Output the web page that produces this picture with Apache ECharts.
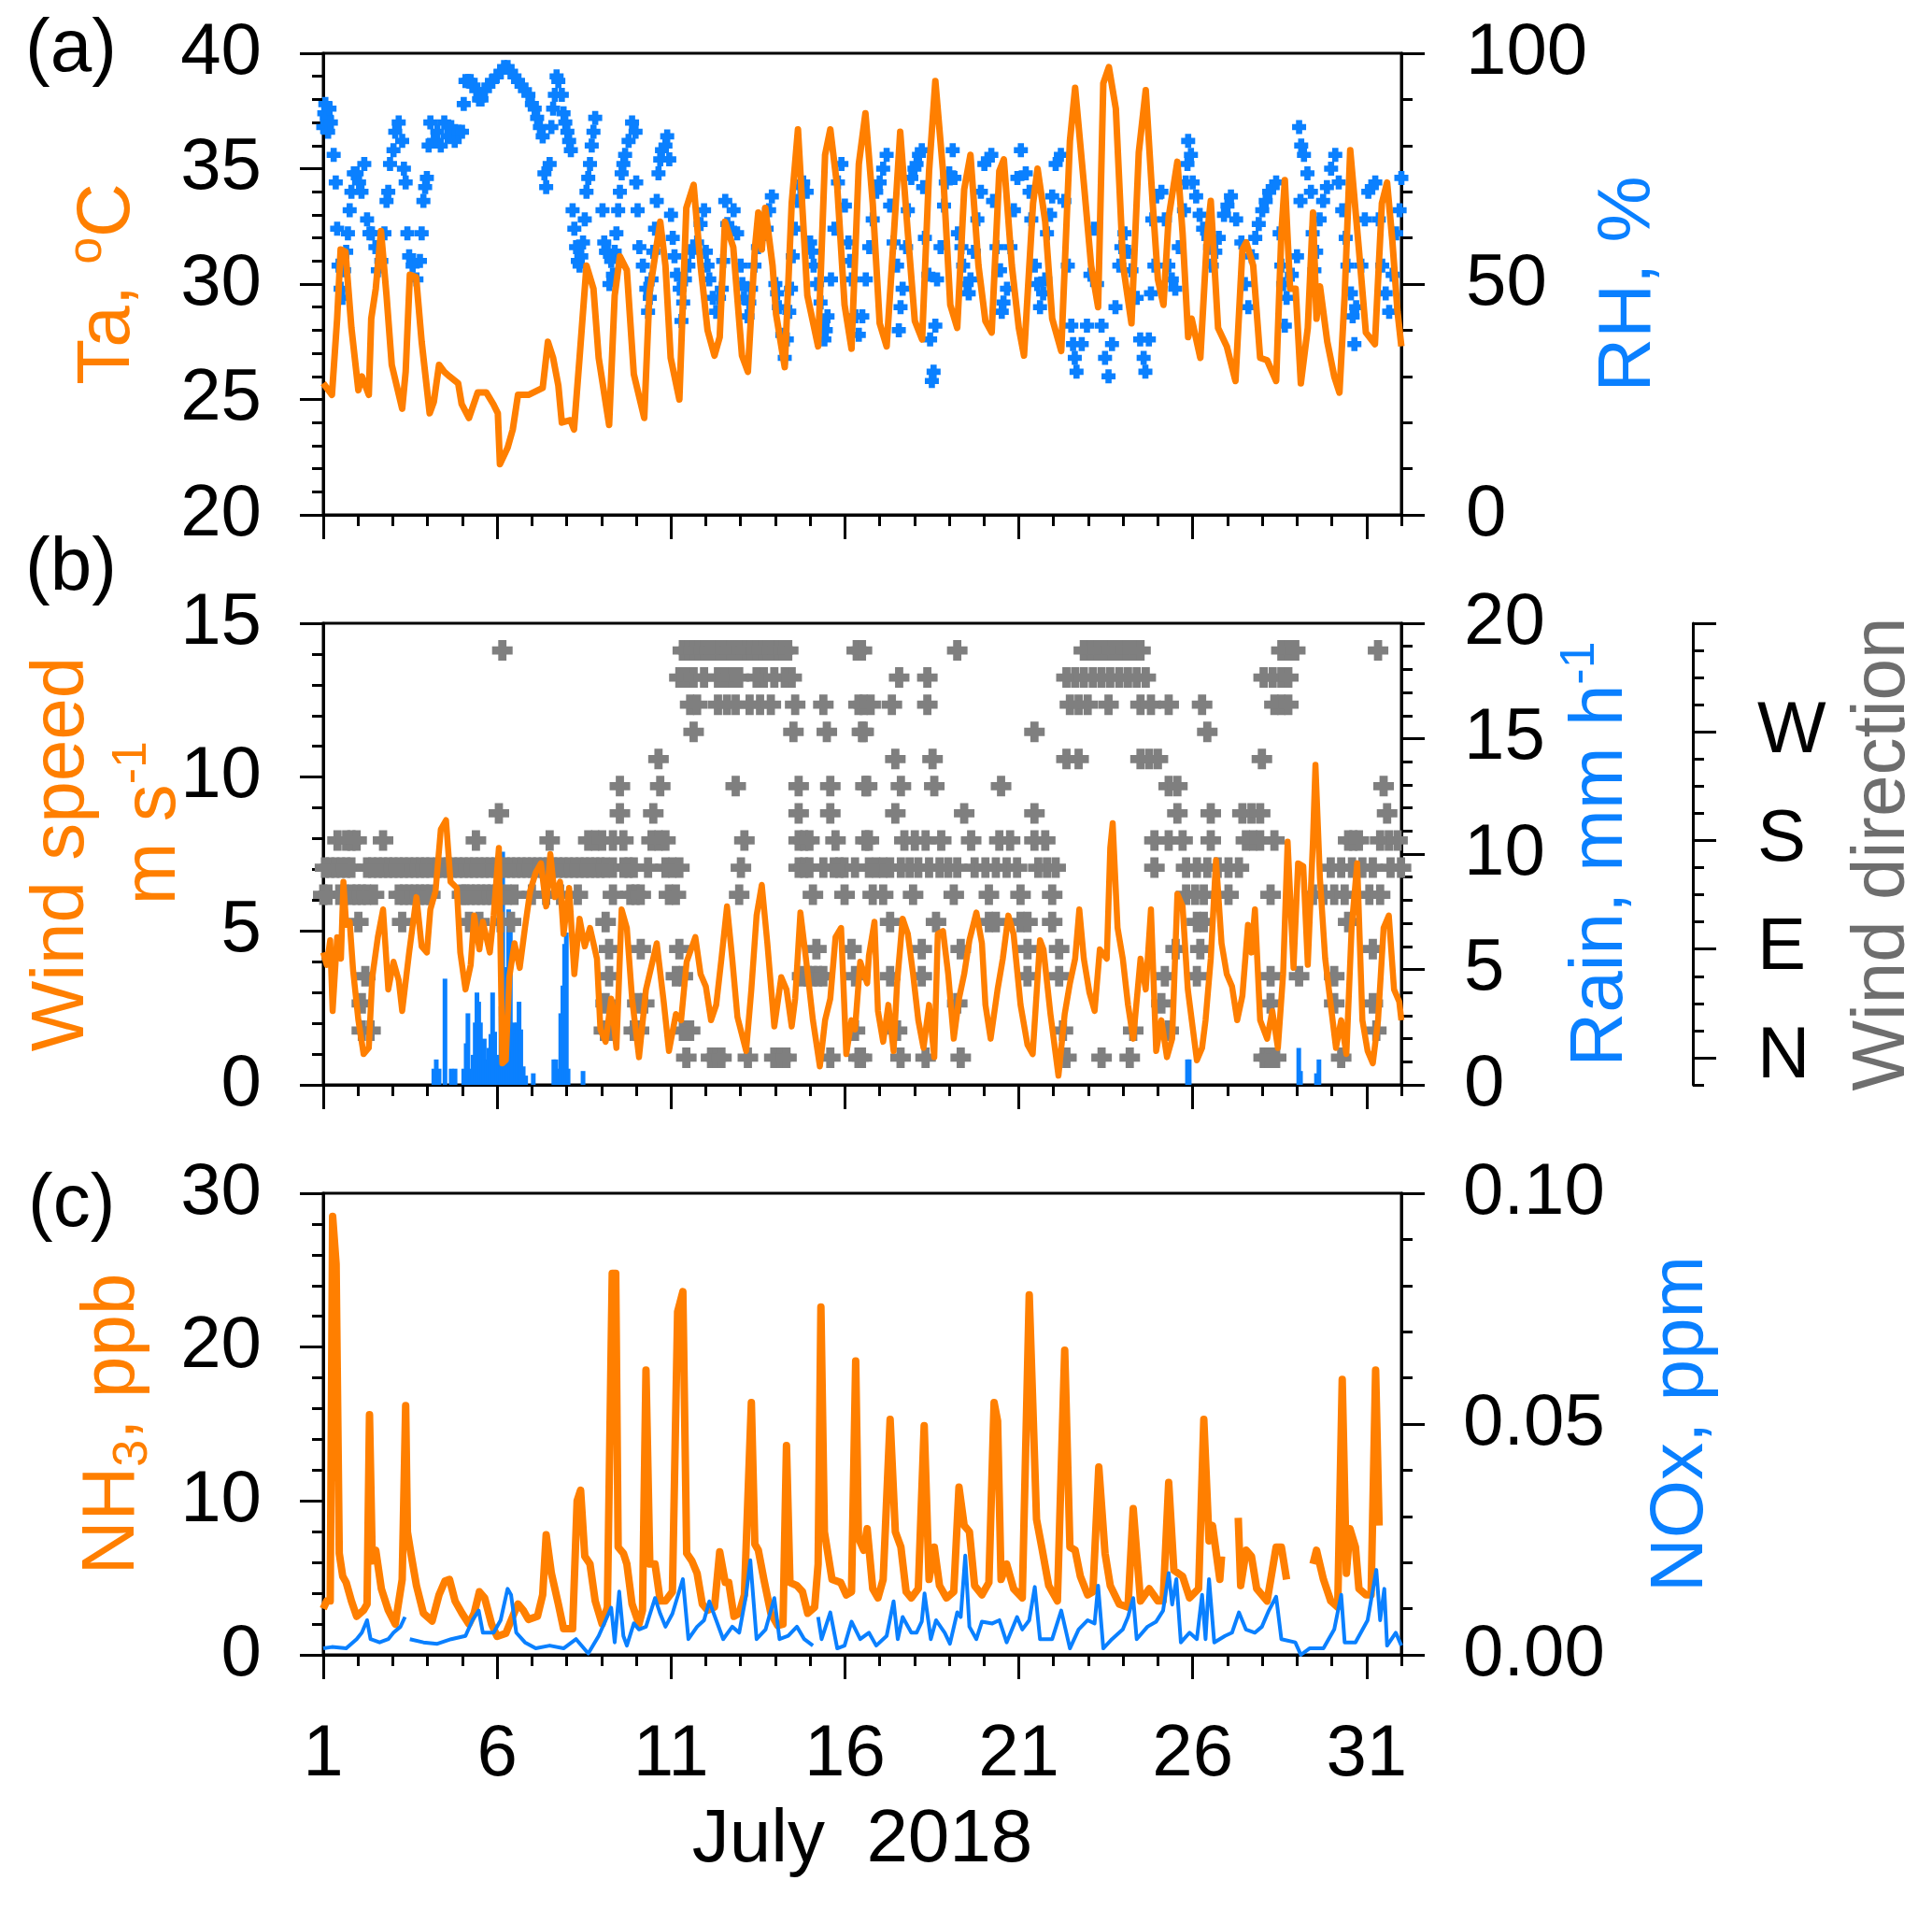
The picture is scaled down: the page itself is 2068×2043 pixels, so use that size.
<!DOCTYPE html>
<html>
<head>
<meta charset="utf-8">
<script src="https://cdn.jsdelivr.net/npm/echarts@6/dist/echarts.min.js"></script>
<style>
html,body{margin:0;padding:0;background:#fff}
#main{width:2068px;height:2043px}
</style>
</head>
<body>
<div id="main"></div>
<script>
// tick labels
var dayTicks = [1, 6, 11, 16, 21, 26, 31];
var compassTicks = [0, 90, 180, 270];
var compassNames = ['N', 'E', 'S', 'W'];

// (a) air temperature, degC  [day of July, value]
var taPts = [[1.00,25.7],[1.25,25.2],[1.40,28.5],[1.50,31.5],[1.64,31.4],[1.81,28.1],[2.01,25.4],[2.11,26.0],[2.31,25.2],[2.38,28.5],[2.51,29.8],[2.66,32.3],[2.82,29.5],[2.97,26.5],[3.27,24.6],[3.37,26.2],[3.49,30.4],[3.67,30.3],[3.83,27.5],[4.06,24.4],[4.18,24.9],[4.33,26.5],[4.48,26.2],[4.63,26.0],[4.88,25.7],[4.98,24.8],[5.19,24.2],[5.44,25.3],[5.69,25.3],[5.89,24.8],[6.02,24.4],[6.08,22.2],[6.30,22.9],[6.45,23.7],[6.60,25.2],[6.90,25.2],[7.31,25.5],[7.46,27.5],[7.61,26.8],[7.76,25.6],[7.86,24.0],[8.11,24.1],[8.21,23.7],[8.37,26.8],[8.57,30.8],[8.77,29.8],[8.92,26.8],[9.22,23.9],[9.38,29.5],[9.53,31.2],[9.73,30.6],[9.93,26.1],[10.23,24.2],[10.38,29.6],[10.69,32.7],[10.84,30.8],[10.99,26.8],[11.24,25.0],[11.44,33.3],[11.65,34.3],[11.85,30.8],[12.05,28.0],[12.25,26.9],[12.40,27.7],[12.55,32.7],[12.79,31.6],[13.04,26.9],[13.21,26.2],[13.41,31.5],[13.51,33.1],[13.61,31.5],[13.71,33.3],[13.92,30.8],[14.02,28.7],[14.27,26.4],[14.47,33.5],[14.65,36.7],[14.92,29.5],[15.23,27.3],[15.43,35.6],[15.58,36.7],[15.78,34.2],[15.99,29.1],[16.19,27.2],[16.40,35.2],[16.59,37.4],[16.80,33.5],[17.00,28.3],[17.20,27.3],[17.41,32.2],[17.59,36.6],[17.81,32.2],[18.01,28.4],[18.22,27.6],[18.42,34.9],[18.60,38.8],[18.82,34.9],[19.03,29.1],[19.23,28.1],[19.43,34.1],[19.61,35.6],[19.84,30.8],[20.04,28.4],[20.22,27.9],[20.44,34.9],[20.57,35.4],[20.80,30.8],[21.00,28.1],[21.15,26.9],[21.41,33.5],[21.54,35.0],[21.76,32.7],[21.96,28.5],[22.22,27.1],[22.47,36.2],[22.62,38.5],[22.88,34.2],[23.08,30.8],[23.28,29.0],[23.43,38.7],[23.59,39.4],[23.79,37.6],[24.00,30.8],[24.24,28.3],[24.45,35.7],[24.65,38.4],[24.85,33.5],[25.00,30.2],[25.16,29.1],[25.31,32.9],[25.56,35.3],[25.71,32.2],[25.87,27.7],[25.97,28.5],[26.22,26.8],[26.42,32.2],[26.52,33.6],[26.73,28.1],[26.98,27.3],[27.23,25.8],[27.43,31.5],[27.54,31.8],[27.74,30.8],[27.94,26.8],[28.14,26.7],[28.40,25.8],[28.55,32.2],[28.65,34.5],[28.80,29.8],[28.96,29.8],[29.11,25.7],[29.31,28.1],[29.46,33.1],[29.56,28.5],[29.66,29.9],[29.87,27.5],[30.07,26.0],[30.22,25.3],[30.37,29.5],[30.53,35.8],[30.78,31.5],[30.98,27.9],[31.24,27.4],[31.44,33.5],[31.59,34.4],[31.74,31.9],[31.89,28.8],[32.00,27.3]];

// (a) relative humidity, %
var rhPts = [[1.00,84],[1.03,87],[1.06,89],[1.10,86],[1.14,83],[1.18,88],[1.22,85],[1.30,78],[1.36,72],[1.40,62],[1.44,54],[1.50,49],[1.55,47],[1.60,53],[1.66,57],[1.71,61],[1.76,66],[1.81,70],[1.88,74],[1.96,74],[2.03,72],[2.10,70],[2.18,76],[2.26,64],[2.33,61],[2.40,61],[2.50,58],[2.57,53],[2.67,55],[2.76,61],[2.82,68],[2.87,70],[2.92,76],[3.02,79],[3.07,83],[3.17,85],[3.27,81],[3.32,75],[3.37,72],[3.42,61],[3.47,56],[3.57,54],[3.68,51],[3.78,55],[3.83,61],[3.88,68],[3.93,71],[3.98,73],[4.03,80],[4.08,85],[4.18,81],[4.28,83],[4.38,80],[4.48,85],[4.58,82],[4.68,84],[4.78,81],[4.89,83],[4.99,83],[5.04,89],[5.09,94],[5.17,94],[5.24,94],[5.32,93],[5.40,92],[5.48,90],[5.55,90],[5.65,92],[5.75,93],[5.85,94],[5.99,95],[6.10,96],[6.20,97],[6.30,97],[6.40,96],[6.50,95],[6.60,94],[6.70,93],[6.80,92],[6.90,91],[7.00,89],[7.08,88],[7.15,86],[7.23,84],[7.31,82],[7.36,74],[7.41,71],[7.51,76],[7.56,84],[7.61,88],[7.66,91],[7.71,95],[7.76,94],[7.86,91],[7.91,87],[7.96,85],[8.02,83],[8.07,81],[8.12,79],[8.17,66],[8.22,62],[8.27,58],[8.32,55],[8.37,54],[8.42,56],[8.47,59],[8.52,64],[8.57,70],[8.62,73],[8.67,76],[8.72,80],[8.77,83],[8.82,86],[9.03,66],[9.08,59],[9.13,57],[9.18,57],[9.23,50],[9.28,55],[9.33,52],[9.38,57],[9.43,61],[9.48,66],[9.53,70],[9.58,74],[9.63,76],[9.68,78],[9.78,81],[9.88,85],[9.98,83],[10.00,72],[10.04,66],[10.09,58],[10.19,54],[10.29,49],[10.34,44],[10.39,47],[10.44,51],[10.49,57],[10.54,62],[10.59,68],[10.64,74],[10.69,77],[10.74,79],[10.84,80],[10.89,82],[10.95,77],[11.00,65],[11.05,60],[11.10,56],[11.17,52],[11.25,49],[11.30,42],[11.35,46],[11.40,51],[11.50,54],[11.60,57],[11.68,58],[11.75,59],[11.85,63],[11.95,66],[12.00,57],[12.05,54],[12.10,51],[12.20,47],[12.30,44],[12.38,47],[12.46,49],[12.50,55],[12.56,68],[12.62,63],[12.70,62],[12.80,66],[12.90,61],[13.00,54],[13.05,50],[13.10,47],[13.20,43],[13.25,46],[13.30,49],[13.40,54],[13.50,58],[13.60,60],[13.68,61],[13.75,62],[13.82,66],[13.90,69],[14.00,50],[14.05,48],[14.10,45],[14.20,39],[14.27,34],[14.33,38],[14.40,44],[14.45,49],[14.50,56],[14.56,62],[14.65,68],[14.72,71],[14.80,72],[14.90,70],[15.00,59],[15.05,57],[15.10,54],[15.20,50],[15.30,46],[15.36,41],[15.41,38],[15.45,40],[15.50,43],[15.60,51],[15.70,62],[15.80,72],[15.90,76],[16.00,67],[16.10,59],[16.15,55],[16.20,51],[16.30,43],[16.40,39],[16.50,43],[16.60,51],[16.70,58],[16.80,64],[16.90,70],[17.00,72],[17.10,75],[17.20,78],[17.30,67],[17.40,59],[17.50,54],[17.55,40],[17.60,45],[17.66,49],[17.76,58],[17.81,66],[17.91,73],[18.00,75],[18.06,76],[18.13,78],[18.21,79],[18.25,71],[18.30,60],[18.40,52],[18.45,38],[18.50,29],[18.55,31],[18.60,41],[18.65,51],[18.75,58],[18.85,67],[18.90,72],[19.00,74],[19.10,79],[19.15,73],[19.25,61],[19.35,58],[19.40,54],[19.50,50],[19.56,48],[19.61,51],[19.71,57],[19.81,64],[19.91,70],[20.01,76],[20.11,77],[20.21,78],[20.26,68],[20.36,58],[20.46,53],[20.51,44],[20.56,46],[20.66,49],[20.76,58],[20.86,66],[20.96,73],[21.06,79],[21.20,74],[21.31,70],[21.36,64],[21.46,54],[21.53,50],[21.61,45],[21.70,48],[21.76,51],[21.81,61],[21.90,65],[21.96,69],[22.06,76],[22.21,78],[22.31,68],[22.41,54],[22.51,41],[22.56,37],[22.61,34],[22.66,31],[22.81,37],[22.96,41],[23.06,52],[23.16,62],[23.25,50],[23.38,41],[23.48,34],[23.58,30],[23.68,37],[23.78,45],[23.89,54],[23.95,58],[24.04,61],[24.14,57],[24.24,53],[24.39,47],[24.49,38],[24.59,34],[24.64,31],[24.74,38],[24.80,48],[24.84,64],[24.90,54],[24.95,69],[25.10,70],[25.20,64],[25.30,54],[25.40,51],[25.50,49],[25.60,58],[25.75,66],[25.80,72],[25.85,76],[25.87,81],[25.95,78],[26.00,72],[26.10,69],[26.20,65],[26.30,62],[26.45,60],[26.50,58],[26.55,54],[26.65,57],[26.75,60],[26.90,65],[27.00,67],[27.10,69],[27.25,64],[27.40,59],[27.50,50],[27.60,45],[27.70,56],[27.80,60],[27.90,63],[28.00,66],[28.10,68],[28.20,70],[28.30,71],[28.40,72],[28.50,61],[28.55,54],[28.60,50],[28.65,41],[28.70,47],[28.85,52],[29.00,56],[29.06,84],[29.10,68],[29.12,80],[29.20,78],[29.30,74],[29.40,70],[29.45,61],[29.50,53],[29.55,57],[29.65,64],[29.75,68],[29.86,71],[29.98,75],[30.10,78],[30.20,72],[30.30,66],[30.40,60],[30.45,54],[30.55,48],[30.60,43],[30.65,37],[30.70,45],[30.85,54],[30.95,64],[31.05,70],[31.15,71],[31.25,72],[31.35,64],[31.45,54],[31.55,48],[31.65,44],[31.75,52],[31.85,61],[31.95,66],[32.00,73]];

// (b) wind speed, m/s
var windPts = [[1.00,4.3],[1.10,3.9],[1.20,4.7],[1.27,2.4],[1.40,4.8],[1.51,4.1],[1.58,6.6],[1.66,5.2],[1.76,5.3],[1.86,3.7],[2.01,2.1],[2.16,1.0],[2.31,1.2],[2.41,3.5],[2.57,4.8],[2.72,5.7],[2.87,3.1],[3.02,4.0],[3.17,3.4],[3.27,2.4],[3.47,4.3],[3.68,6.1],[3.83,4.5],[3.98,4.3],[4.08,5.7],[4.23,6.3],[4.38,8.3],[4.53,8.6],[4.66,6.6],[4.84,6.4],[4.94,4.3],[5.09,3.1],[5.24,3.9],[5.34,5.5],[5.49,4.4],[5.59,5.3],[5.79,4.3],[5.90,5.5],[6.05,7.7],[6.15,0.7],[6.25,0.8],[6.35,3.5],[6.50,4.6],[6.65,3.8],[6.80,5.1],[6.95,6.3],[7.11,6.9],[7.26,7.2],[7.41,5.8],[7.53,7.5],[7.66,6.1],[7.81,6.6],[7.91,4.9],[8.07,6.4],[8.22,3.6],[8.37,5.4],[8.52,4.5],[8.67,5.1],[8.87,4.1],[8.97,1.8],[9.12,1.4],[9.28,2.8],[9.43,1.2],[9.58,5.7],[9.73,5.1],[9.88,2.8],[10.08,0.9],[10.28,3.1],[10.59,4.6],[10.79,2.7],[10.94,1.1],[11.14,2.3],[11.29,2.1],[11.45,4.0],[11.70,4.8],[11.85,3.6],[12.00,3.2],[12.15,2.1],[12.30,2.6],[12.45,4.1],[12.61,5.8],[12.76,4.1],[12.91,2.2],[13.16,1.1],[13.31,3.1],[13.46,5.5],[13.61,6.5],[13.77,4.6],[13.97,1.9],[14.17,3.5],[14.32,3.1],[14.47,1.9],[14.57,2.8],[14.72,5.6],[14.88,4.1],[15.08,2.1],[15.28,0.6],[15.43,2.1],[15.58,2.8],[15.73,4.8],[15.89,5.1],[16.04,1.0],[16.19,2.1],[16.29,1.8],[16.44,4.0],[16.64,3.3],[16.69,4.2],[16.85,5.3],[16.95,2.4],[17.10,1.4],[17.25,2.6],[17.40,1.1],[17.50,3.3],[17.66,5.4],[17.81,4.9],[17.96,3.6],[18.11,2.1],[18.26,1.2],[18.42,2.6],[18.57,0.9],[18.67,4.9],[18.82,5.0],[18.97,3.6],[19.13,1.5],[19.28,2.8],[19.43,3.6],[19.58,4.7],[19.78,5.6],[19.94,4.6],[20.04,2.6],[20.19,1.5],[20.39,3.1],[20.54,4.1],[20.70,5.5],[20.85,4.9],[21.05,2.6],[21.25,1.3],[21.40,1.0],[21.61,4.7],[21.71,4.4],[21.91,2.3],[22.14,0.3],[22.32,2.3],[22.47,3.3],[22.62,4.1],[22.74,5.7],[22.87,4.1],[23.03,3.0],[23.18,2.4],[23.33,4.4],[23.53,4.1],[23.63,7.7],[23.70,8.5],[23.84,5.1],[23.99,4.1],[24.14,2.6],[24.29,1.5],[24.50,4.1],[24.65,3.1],[24.80,5.7],[24.95,1.1],[25.10,2.1],[25.26,0.9],[25.41,1.5],[25.56,6.2],[25.71,5.8],[25.86,3.1],[26.12,0.8],[26.27,1.2],[26.37,2.1],[26.52,4.1],[26.67,7.3],[26.83,4.6],[26.98,3.6],[27.13,3.2],[27.28,2.1],[27.43,2.9],[27.59,5.2],[27.69,4.3],[27.79,5.7],[27.94,2.1],[28.14,1.5],[28.29,2.4],[28.45,1.2],[28.60,3.6],[28.73,7.9],[28.90,3.8],[29.03,7.2],[29.18,7.1],[29.31,3.9],[29.46,8.0],[29.53,10.4],[29.66,6.7],[29.81,4.1],[29.97,2.6],[30.12,1.2],[30.27,2.1],[30.42,1.0],[30.57,5.1],[30.73,7.2],[30.88,2.1],[31.03,1.1],[31.18,0.7],[31.33,2.1],[31.49,5.1],[31.64,5.5],[31.79,3.1],[31.94,2.7],[32.00,2.1]];

// (b) rain, mm/h
var rainPts = [[4.18,0.7],[4.25,1.1],[4.33,0.7],[4.50,4.6],[4.68,0.7],[4.79,0.7],[5.04,0.7],[5.11,1.8],[5.16,3.1],[5.24,0.7],[5.31,1.3],[5.37,2.7],[5.42,4.0],[5.47,3.6],[5.52,2.7],[5.57,1.6],[5.63,2.0],[5.69,1.1],[5.76,1.6],[5.82,2.2],[5.87,4.0],[5.93,2.3],[6.00,1.1],[6.06,1.3],[6.11,3.4],[6.16,10.1],[6.22,1.6],[6.28,5.1],[6.33,7.6],[6.38,7.4],[6.43,2.0],[6.48,2.7],[6.53,2.2],[6.58,2.7],[6.63,3.6],[6.68,2.4],[6.75,0.8],[6.82,0.4],[7.04,0.5],[7.63,1.1],[7.69,1.1],[7.76,0.7],[7.83,3.1],[7.89,4.3],[7.94,6.1],[7.99,6.6],[8.04,0.7],[8.47,0.6],[25.85,1.1],[25.90,1.1],[29.05,1.6],[29.10,0.6],[29.56,0.5],[29.63,1.1]];

// (b) wind direction: times (day of July) per 16-point sector
var wdN   = [11.44,12.15,12.30,12.45,13.21,13.97,14.17,14.32,15.58,16.39,16.49,17.60,18.32,19.33,22.37,23.38,24.19,28.04,28.19,28.40,30.27];
var wdNNE = [2.11,2.36,9.07,9.22,9.93,10.08,11.34,11.55,16.29,17.50,22.27,24.29,25.31,31.28];
var wdNE  = [2.11,9.12,10.03,10.23,19.23,25.10,28.24,30.07,31.18];
var wdENE = [2.21,9.22,11.14,11.34,14.77,14.93,15.08,15.23,15.38,16.29,17.30,18.21,21.25,22.16,25.20,26.12,28.24,29.06,30.07];
var wdE   = [9.22,10.13,11.24,15.18,16.19,18.21,19.33,21.25,22.16,25.51,26.22,31.18];
var wdESE = [2.01,3.27,5.19,5.49,6.10,6.40,9.12,17.30,18.62,20.14,20.34,21.05,21.25,21.96,26.12,26.32,30.47];
var wdSE  = [1.00,1.15,1.46,1.61,1.81,1.96,2.11,2.26,2.46,3.17,3.32,3.47,3.63,3.78,3.93,4.08,4.99,5.09,5.24,5.39,5.54,5.69,5.84,5.99,6.10,6.30,6.50,7.00,7.41,7.81,8.32,9.33,9.83,9.98,10.13,10.94,11.14,12.96,15.08,15.99,16.80,17.10,17.96,19.13,20.14,21.05,21.96,25.81,26.07,26.32,27.03,28.24,29.46,29.76,30.07,30.37,31.08,31.39];
var wdSSE = [1.05,1.20,1.35,1.51,1.66,1.81,2.26,2.41,2.57,2.72,2.87,3.02,3.17,3.32,3.47,3.63,3.78,3.93,4.08,4.28,4.43,4.58,4.73,4.89,5.04,5.19,5.34,5.49,5.64,5.79,5.95,6.10,6.25,6.40,6.55,6.70,6.85,7.00,7.16,7.31,7.46,7.61,7.76,7.91,8.06,8.22,8.37,8.52,8.67,8.82,8.97,9.12,9.33,9.63,9.78,9.93,10.34,10.84,11.04,11.24,13.01,14.67,14.83,14.98,15.38,15.68,15.84,15.99,16.29,16.69,16.90,17.10,17.30,17.61,17.86,18.11,18.42,18.72,18.97,19.23,19.73,20.04,20.34,20.65,20.95,21.56,21.81,22.06,24.90,25.81,26.12,26.42,26.72,27.03,27.33,29.97,30.27,30.58,30.88,31.18,31.69,31.99];
var wdS   = [1.41,1.66,1.81,1.96,2.72,5.39,7.51,8.62,8.82,9.02,9.33,9.63,10.44,10.64,10.84,13.11,14.67,14.83,14.98,15.73,16.59,16.69,17.71,18.01,18.32,18.77,19.63,20.44,20.75,21.45,21.76,24.90,25.31,25.71,26.52,27.53,27.74,27.94,28.35,30.47,30.62,30.78,31.39,31.64,31.89];
var wdSSW = [6.05,9.53,10.49,14.67,15.58,17.45,19.43,21.45,25.56,26.52,27.43,27.69,27.94,31.59];
var wdSW  = [9.53,10.69,12.86,14.67,15.58,16.59,16.64,17.61,18.57,20.49,25.31,25.56,31.49];
var wdWSW = [10.64,17.45,18.52,22.37,22.72,24.50,24.75,25.00,27.99];
var wdW   = [11.65,14.52,15.48,16.49,16.54,21.45,26.42];
var wdWNW = [11.55,11.75,12.35,12.61,12.86,13.26,13.56,13.87,14.57,15.38,16.39,16.54,16.74,17.35,18.37,22.47,22.72,22.98,23.58,24.50,24.80,25.31,26.27,28.35,28.55,28.75];
var wdNW  = [11.24,11.45,11.65,11.95,12.35,12.56,12.76,12.96,13.46,13.67,13.97,14.27,14.47,17.56,18.37,22.37,22.62,22.87,23.13,23.38,23.63,23.89,24.14,24.39,24.65,28.04,28.30,28.55,28.75];
var wdNNW = [6.15,11.34,11.50,11.65,11.80,11.95,12.10,12.25,12.40,12.56,12.71,12.86,13.01,13.16,13.31,13.46,13.61,13.77,13.92,14.07,14.22,14.37,16.34,16.49,19.23,22.87,23.08,23.28,23.48,23.68,23.89,24.09,24.29,24.50,28.55,28.75,28.95,31.33];

// (c) NH3, ppb (null = gap)
var nh3Pts = [[1.00,3.0],[1.10,3.5],[1.20,3.5],[1.27,28.5],[1.37,25.4],[1.46,6.6],[1.56,5.1],[1.66,4.7],[1.81,3.5],[1.96,2.5],[2.16,2.9],[2.26,3.3],[2.33,15.6],[2.41,6.1],[2.51,6.8],[2.67,4.3],[2.87,2.9],[3.07,2.0],[3.27,4.9],[3.37,16.2],[3.42,8.0],[3.52,6.6],[3.68,4.5],[3.88,2.7],[4.13,2.2],[4.33,3.9],[4.50,4.8],[4.63,4.9],[4.79,3.5],[4.99,2.7],[5.19,2.0],[5.34,2.7],[5.49,4.1],[5.64,3.7],[5.84,2.0],[6.00,1.2],[6.25,1.4],[6.45,2.5],[6.60,3.3],[6.75,2.9],[6.90,2.3],[7.16,2.5],[7.31,3.9],[7.41,7.8],[7.56,5.3],[7.76,3.3],[7.91,1.7],[8.17,1.7],[8.30,10.0],[8.40,10.7],[8.52,6.4],[8.67,5.9],[8.82,3.5],[9.02,2.0],[9.17,3.1],[9.31,24.8],[9.41,24.8],[9.48,7.0],[9.63,6.6],[9.73,5.9],[9.88,3.3],[10.08,2.0],[10.18,2.9],[10.28,18.5],[10.39,5.9],[10.54,5.9],[10.69,3.5],[10.84,3.5],[11.04,4.1],[11.19,22.3],[11.34,23.6],[11.45,6.6],[11.60,6.1],[11.75,5.3],[11.90,3.3],[12.05,2.9],[12.25,3.1],[12.40,6.7],[12.56,4.7],[12.66,4.7],[12.81,2.5],[12.96,2.7],[13.11,3.9],[13.31,16.4],[13.41,7.2],[13.51,6.8],[13.67,4.9],[13.87,2.7],[14.07,1.9],[14.22,2.0],[14.32,13.6],[14.42,4.7],[14.62,4.5],[14.78,4.1],[14.93,2.7],[15.13,3.1],[15.23,5.9],[15.31,22.6],[15.41,8.0],[15.63,4.9],[15.88,4.7],[16.04,3.9],[16.19,4.1],[16.31,19.1],[16.39,7.6],[16.54,6.8],[16.64,8.2],[16.80,4.3],[16.95,3.7],[17.10,4.9],[17.30,15.3],[17.45,8.0],[17.61,7.0],[17.76,4.1],[17.91,3.7],[18.11,4.3],[18.28,14.9],[18.42,4.9],[18.57,7.0],[18.72,4.5],[18.92,3.7],[19.13,4.1],[19.28,10.9],[19.43,8.4],[19.58,8.0],[19.73,4.5],[19.94,3.9],[20.14,4.7],[20.29,16.4],[20.39,15.2],[20.49,4.9],[20.65,5.9],[20.85,4.3],[21.10,3.7],[21.30,23.4],[21.51,8.8],[21.66,7.0],[21.86,4.5],[22.11,3.5],[22.32,19.8],[22.47,7.0],[22.62,6.8],[22.77,5.1],[22.98,3.9],[23.13,4.1],[23.30,12.2],[23.48,6.6],[23.63,4.5],[23.89,3.3],[24.14,3.1],[24.29,9.5],[24.50,3.5],[24.75,4.3],[25.00,3.5],[25.15,3.5],[25.31,11.2],[25.46,5.5],[25.71,5.1],[25.91,3.7],[26.17,4.3],[26.32,15.3],[26.47,7.4],[26.57,8.4],[26.78,4.9],[26.83,6.4],[26.85,null],[27.31,8.9],[27.38,4.5],[27.54,6.8],[27.69,6.4],[27.84,4.3],[28.14,3.5],[28.40,7.0],[28.55,7.0],[28.70,4.9],[28.72,null],[29.46,5.9],[29.56,6.8],[29.76,4.9],[29.97,3.5],[30.17,3.1],[30.30,17.9],[30.42,5.3],[30.52,8.2],[30.68,7.0],[30.78,4.3],[30.98,3.9],[31.13,3.9],[31.26,18.5],[31.36,8.4]];

// (c) NOx, ppm (null = gap)
var noxPts = [[1.00,0.0014],[1.25,0.0017],[1.66,0.0014],[1.96,0.0034],[2.11,0.0048],[2.26,0.0075],[2.36,0.0034],[2.62,0.0027],[2.87,0.0034],[3.02,0.0048],[3.22,0.0061],[3.35,0.0082],[3.42,null],[3.49,0.0034],[3.88,0.0027],[4.28,0.0024],[4.68,0.0034],[5.09,0.0041],[5.29,0.0075],[5.47,0.0096],[5.59,0.0048],[5.90,0.0048],[6.10,0.0075],[6.30,0.0143],[6.40,0.0130],[6.55,0.0048],[6.80,0.0027],[7.11,0.0014],[7.51,0.0020],[7.91,0.0014],[8.27,0.0034],[8.62,0.0003],[8.92,0.0041],[9.12,0.0075],[9.28,0.0102],[9.38,0.0027],[9.51,0.0137],[9.63,0.0041],[9.73,0.0020],[9.93,0.0068],[10.08,0.0055],[10.28,0.0061],[10.54,0.0123],[10.69,0.0089],[10.84,0.0061],[11.04,0.0089],[11.34,0.0164],[11.50,0.0034],[11.75,0.0061],[11.95,0.0075],[12.10,0.0116],[12.30,0.0075],[12.50,0.0034],[12.76,0.0061],[12.96,0.0048],[13.16,0.0130],[13.28,0.0205],[13.46,0.0034],[13.72,0.0055],[13.97,0.0123],[14.12,0.0034],[14.37,0.0041],[14.62,0.0061],[14.83,0.0034],[15.08,0.0020],[15.15,null],[15.23,0.0082],[15.33,0.0034],[15.58,0.0092],[15.78,0.0014],[15.99,0.0020],[16.19,0.0072],[16.44,0.0034],[16.69,0.0048],[16.90,0.0020],[17.20,0.0041],[17.40,0.0116],[17.52,0.0034],[17.66,0.0082],[17.91,0.0048],[18.06,0.0048],[18.21,0.0072],[18.29,0.0133],[18.47,0.0034],[18.62,0.0075],[18.87,0.0048],[19.02,0.0024],[19.23,0.0092],[19.33,0.0082],[19.46,0.0215],[19.58,0.0061],[19.78,0.0034],[19.94,0.0072],[20.24,0.0068],[20.44,0.0075],[20.65,0.0027],[20.95,0.0082],[21.10,0.0055],[21.30,0.0075],[21.46,0.0147],[21.61,0.0034],[21.96,0.0034],[22.22,0.0096],[22.47,0.0014],[22.72,0.0055],[22.98,0.0075],[23.18,0.0068],[23.28,0.0150],[23.43,0.0014],[23.68,0.0034],[23.99,0.0055],[24.14,0.0082],[24.29,0.0123],[24.39,0.0034],[24.70,0.0061],[24.95,0.0072],[25.15,0.0096],[25.31,0.0177],[25.41,0.0109],[25.53,0.0164],[25.66,0.0027],[25.91,0.0048],[26.12,0.0034],[26.27,0.0130],[26.37,0.0034],[26.47,0.0164],[26.62,0.0027],[26.93,0.0041],[27.13,0.0048],[27.33,0.0092],[27.53,0.0055],[27.79,0.0048],[27.99,0.0061],[28.19,0.0096],[28.40,0.0126],[28.55,0.0034],[28.95,0.0027],[29.11,0.0000],[29.36,0.0014],[29.76,0.0014],[30.07,0.0055],[30.27,0.0130],[30.37,0.0027],[30.68,0.0027],[31.03,0.0075],[31.28,0.0184],[31.39,0.0075],[31.51,0.0143],[31.59,0.0020],[31.84,0.0048],[32.00,0.0020]];

var ORANGE = '#FF7F00', BLUE = '#0A80FF', GRAY = '#7F7F7F', BLACK = '#000';
var FONT = 'Liberation Sans, Arial, sans-serif';
var CROSS = 'path://M2.8,0H7.2V2.8H10V7.2H7.2V10H2.8V7.2H0V2.8H2.8Z';
var CROSS_WD = 'path://M3,0H7V3H10V7H7V10H3V7H0V3H3Z';

function gaps(arr) {
  return arr.map(function (p) { return [p[0], p[1] === null ? '-' : p[1]]; });
}

var wdSectors = [wdN, wdNNE, wdNE, wdENE, wdE, wdESE, wdSE, wdSSE, wdS, wdSSW, wdSW, wdWSW, wdW, wdWNW, wdNW, wdNNW];
var wdData = [];
wdSectors.forEach(function (times, i) {
  times.forEach(function (t) { wdData.push([t, i * 22.5]); });
});
var wdMinor = [];
for (var k = -1; k <= 16; k++) wdMinor.push(k * 22.5);

var lineSt = { color: BLACK, width: 3 };
var labelSt = { fontSize: 78, color: BLACK, fontFamily: FONT };

function xAxes(g, showLabel) {
  return [
    { gridIndex: g, type: 'value', position: 'bottom', min: 1, max: 32, interval: 1,
      axisLine: { show: true, lineStyle: lineSt },
      axisTick: { show: true, length: 12, lineStyle: lineSt },
      axisLabel: { show: false }, splitLine: { show: false } },
    { gridIndex: g, type: 'value', position: 'bottom', min: 1, max: 32,
      axisLine: { show: false },
      axisTick: { show: true, length: 26, customValues: dayTicks, lineStyle: lineSt },
      axisLabel: Object.assign({ show: showLabel, customValues: dayTicks, margin: 68 }, labelSt),
      splitLine: { show: false },
      name: showLabel ? 'July  2018' : '', nameLocation: 'middle', nameGap: 159,
      nameTextStyle: { fontSize: 80, color: BLACK, fontFamily: FONT } }
  ];
}

function yAxis(o) {
  return {
    type: 'value', gridIndex: o.grid, position: o.pos, min: o.min, max: o.max, interval: o.interval,
    axisLine: { show: true, lineStyle: lineSt },
    axisTick: { show: true, length: 25, lineStyle: lineSt },
    minorTick: { show: true, splitNumber: 5, length: 12, lineStyle: lineSt },
    splitLine: { show: false }, minorSplitLine: { show: false },
    axisLabel: Object.assign({ margin: o.margin || 66, formatter: o.fmt }, labelSt),
    name: o.name, nameLocation: 'middle', nameGap: o.gap, nameMoveOverlap: false,
    nameTextStyle: { fontSize: 80, color: o.color, fontFamily: FONT, lineHeight: o.lh || 96, rich: o.rich }
  };
}

var supStyle = function (c) { return { fontSize: 52, lineHeight: 30, verticalAlign: 'top', color: c, fontFamily: FONT }; };

var gridBase = { left: 346, width: 1154, height: 494, show: true, borderColor: BLACK, borderWidth: 3,
  backgroundColor: 'transparent', containLabel: false, outerBoundsMode: 'none' };

var option = {
  animation: false,
  backgroundColor: '#fff',
  grid: [
    Object.assign({ top: 57 }, gridBase),
    Object.assign({ top: 667 }, gridBase),
    Object.assign({ top: 1277 }, gridBase)
  ],
  xAxis: [].concat(xAxes(0, false), xAxes(1, false), xAxes(2, true)),
  yAxis: [
    yAxis({ grid: 0, pos: 'left', min: 20, max: 40, interval: 5, name: 'Ta, {sup|o}C', gap: 182, color: ORANGE,
            rich: { sup: supStyle(ORANGE) } }),
    yAxis({ grid: 0, pos: 'right', min: 0, max: 100, interval: 50, name: 'RH, %', gap: 196, color: BLUE, margin: 69 }),
    yAxis({ grid: 1, pos: 'left', min: 0, max: 15, interval: 5, name: 'Wind speed\n   m s{sup|-1}', gap: 132, color: ORANGE,
            lh: 98, rich: { sup: supStyle(ORANGE) } }),
    yAxis({ grid: 1, pos: 'right', min: 0, max: 20, interval: 5, name: 'Rain, mm h{sup|-1}', gap: 166, color: BLUE, margin: 67,
            rich: { sup: supStyle(BLUE) } }),
    { type: 'value', gridIndex: 1, position: 'right', offset: 312, min: -22.5, max: 360,
      axisLine: { show: true, lineStyle: lineSt },
      axisTick: { show: true, length: 25, customValues: [0, 90, 180, 270, 360], lineStyle: lineSt },
      axisLabel: Object.assign({ margin: 69, customValues: compassTicks,
        formatter: function (v) { return compassNames[compassTicks.indexOf(v)] || ''; } }, labelSt),
      splitLine: { show: false },
      name: 'Wind direction', nameLocation: 'middle', nameGap: 156, nameMoveOverlap: false,
      nameTextStyle: { fontSize: 80, color: '#6E6E6E', fontFamily: FONT, lineHeight: 96 } },
    { type: 'value', gridIndex: 1, position: 'right', offset: 312, min: -22.5, max: 360,
      axisLine: { show: false },
      axisTick: { show: true, length: 12, customValues: wdMinor, lineStyle: lineSt },
      axisLabel: { show: false }, splitLine: { show: false } },
    yAxis({ grid: 2, pos: 'left', min: 0, max: 30, interval: 10, name: 'NH{sub|3}, ppb', gap: 177, color: ORANGE,
            rich: { sub: { fontSize: 52, lineHeight: 28, verticalAlign: 'bottom', color: ORANGE, fontFamily: FONT } } }),
    yAxis({ grid: 2, pos: 'right', min: 0, max: 0.1, interval: 0.05, name: 'NOx, ppm', gap: 252, color: BLUE, margin: 66,
            fmt: function (v) { return v.toFixed(2); } })
  ],
  graphic: [
    { type: 'text', left: 27, top: 14, style: { text: '(a)', fontSize: 80, fontFamily: FONT, fill: BLACK } },
    { type: 'text', left: 27, top: 569, style: { text: '(b)', fontSize: 80, fontFamily: FONT, fill: BLACK } },
    { type: 'text', left: 30, top: 1250, style: { text: '(c)', fontSize: 80, fontFamily: FONT, fill: BLACK } }
  ],
  series: [
    { type: 'scatter', xAxisIndex: 0, yAxisIndex: 1, data: rhPts, symbol: CROSS, symbolSize: 15,
      itemStyle: { color: BLUE, opacity: 1 }, silent: true },
    { type: 'line', xAxisIndex: 0, yAxisIndex: 0, data: taPts, symbol: 'none', showSymbol: false,
      lineStyle: { color: ORANGE, width: 7, join: 'round' }, silent: true },
    { type: 'scatter', xAxisIndex: 2, yAxisIndex: 4, data: wdData, symbol: CROSS_WD, symbolSize: 22,
      itemStyle: { color: GRAY, opacity: 1 }, silent: true },
    { type: 'bar', xAxisIndex: 2, yAxisIndex: 3, data: rainPts, barWidth: 5,
      itemStyle: { color: BLUE }, silent: true },
    { type: 'line', xAxisIndex: 2, yAxisIndex: 2, data: windPts, symbol: 'none', showSymbol: false,
      lineStyle: { color: ORANGE, width: 6.5, join: 'round' }, silent: true },
    { type: 'line', xAxisIndex: 4, yAxisIndex: 6, data: gaps(nh3Pts), symbol: 'none', showSymbol: false,
      connectNulls: false, lineStyle: { color: ORANGE, width: 8, join: 'round' }, silent: true },
    { type: 'line', xAxisIndex: 4, yAxisIndex: 7, data: gaps(noxPts), symbol: 'none', showSymbol: false,
      connectNulls: false, lineStyle: { color: BLUE, width: 4, join: 'round' }, silent: true }
  ]
};

var myChart = echarts.init(document.getElementById('main'), null, { renderer: 'canvas' });
myChart.setOption(option);
</script>
</body>
</html>
